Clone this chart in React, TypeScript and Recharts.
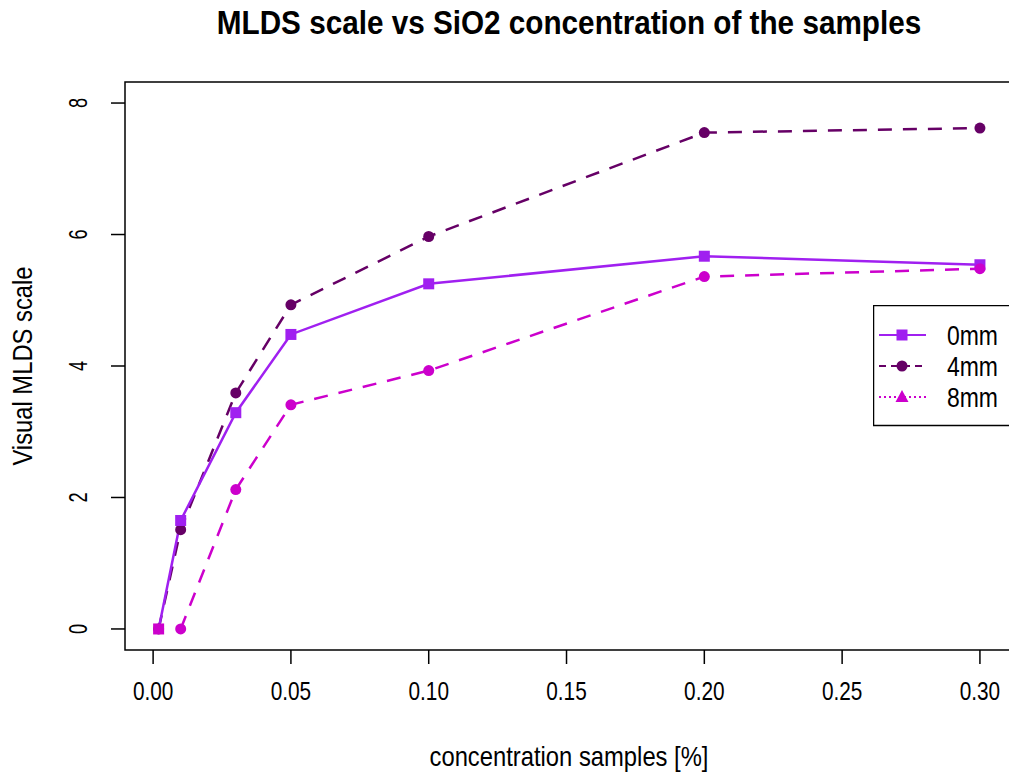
import React from "react";
import { LineChart, Line, XAxis, YAxis, ReferenceArea, Legend } from "recharts";

const concentration = [0.002, 0.01, 0.03, 0.05, 0.1, 0.2, 0.3];
const mm0 = [0, 1.65, 3.29, 4.48, 5.25, 5.67, 5.54];
const mm4 = [0, 1.51, 3.59, 4.93, 5.97, 7.55, 7.62];
const mm8 = [null, 0, 2.12, 3.41, 3.93, 5.36, 5.48];
const xTicks = [0, 0.05, 0.1, 0.15, 0.2, 0.25, 0.3];
const yTicks = [0, 2, 4, 6, 8];
const seriesNames = ["0mm", "4mm", "8mm"];

const data = concentration.map((c, i) => ({ c, mm0: mm0[i], mm4: mm4[i], mm8: mm8[i] }));

const FONT = "'Liberation Sans', Arial, sans-serif";
const PURPLE = "#A020F0";
const DARK = "#660066";
const MAGENTA = "#CC00CC";
const X_DOMAIN: [number, number] = [-0.0102, 0.312];
const Y_DOMAIN: [number, number] = [-0.32, 8.32];

const squareDot = (props: any) => {
  const { cx, cy, index } = props;
  if (cx == null || cy == null) return <g key={"s" + index} />;
  return (
    <rect key={"s" + index} x={cx - 5.5} y={cy - 5.5} width={11} height={11}
      fill={index === 0 ? MAGENTA : PURPLE} />
  );
};

const circleDot = (color: string) => (props: any) => {
  const { cx, cy, index } = props;
  if (cx == null || cy == null) return <g key={"c" + index} />;
  return <circle key={"c" + index} cx={cx} cy={cy} r={5.5} fill={color} />;
};

// R's labels here look narrow and tall, so squeeze along the reading direction
const XTick = (props: any) => {
  const { x, y, payload } = props;
  return (
    <g transform={`translate(${x}, ${y + 34}) scale(0.8, 1)`}>
      <text x={0} y={0} textAnchor="middle" fontSize={26} fontFamily={FONT} fill="#000">
        {payload.value.toFixed(2)}
      </text>
    </g>
  );
};

const YTick = (props: any) => {
  const { x, y, payload } = props;
  const bx = x - 22;
  return (
    <g transform={`translate(${bx}, ${y}) rotate(-90) scale(0.7, 1)`}>
      <text x={0} y={0} textAnchor="middle" fontSize={26} fontFamily={FONT} fill="#000">
        {payload.value}
      </text>
    </g>
  );
};

const LegendBox = () => {
  const rows = [
    { name: seriesNames[0], color: PURPLE, dash: undefined, mark: "square" },
    { name: seriesNames[1], color: DARK, dash: "7 5", mark: "circle" },
    { name: seriesNames[2], color: MAGENTA, dash: "2 3", mark: "triangle" },
  ];
  return (
    <svg width={150} height={122} style={{ display: "block" }}>
      <rect x={0.5} y={0.5} width={170} height={120} fill="#fff" stroke="#000" strokeWidth={1.5} />
      {rows.map((r, i) => {
        const cy = 30 + i * 31;
        return (
          <g key={r.name}>
            <line x1={6} x2={53} y1={cy} y2={cy} stroke={r.color} strokeWidth={2} strokeDasharray={r.dash} />
            {r.mark === "square" && <rect x={23.5} y={cy - 5.5} width={11} height={11} fill={r.color} />}
            {r.mark === "circle" && <circle cx={29} cy={cy} r={5.5} fill={r.color} />}
            {r.mark === "triangle" && (
              <polygon points={`${29},${cy - 7} ${35.5},${cy + 5} ${22.5},${cy + 5}`} fill={r.color} />
            )}
            <g transform={`translate(74, ${cy + 9.5}) scale(0.85, 1)`}>
              <text x={0} y={0} fontSize={27} fontFamily={FONT} fill="#000">{r.name}</text>
            </g>
          </g>
        );
      })}
    </svg>
  );
};

export default function App() {
  return (
    <div style={{ position: "absolute", left: 0, top: 0, width: 1009, height: 772, overflow: "hidden", background: "#fff" }}>
      <LineChart width={1030} height={772} data={data} margin={{ top: 82, right: 17, left: 0, bottom: 62 }}>
        <XAxis dataKey="c" type="number" domain={X_DOMAIN} ticks={xTicks} allowDataOverflow
          height={60} tickSize={14} tickLine={{ stroke: "#000", strokeWidth: 1.5 }}
          axisLine={false} tick={<XTick />} interval={0} />
        <YAxis type="number" domain={Y_DOMAIN} ticks={yTicks} allowDataOverflow
          width={125} tickSize={14} tickLine={{ stroke: "#000", strokeWidth: 1.5 }}
          axisLine={false} tick={<YTick />} interval={0} />
        <ReferenceArea x1={X_DOMAIN[0]} x2={X_DOMAIN[1]} y1={Y_DOMAIN[0]} y2={Y_DOMAIN[1]}
          fill="none" fillOpacity={0} stroke="#000" strokeWidth={1.5} ifOverflow="visible" />
        <Line dataKey="mm4" name={seriesNames[1]} stroke={DARK} strokeWidth={2.5} strokeDasharray="14 11"
          dot={circleDot(DARK)} activeDot={false} isAnimationActive={false} />
        <Line dataKey="mm0" name={seriesNames[0]} stroke={PURPLE} strokeWidth={2.5}
          dot={squareDot} activeDot={false} isAnimationActive={false} />
        <Line dataKey="mm8" name={seriesNames[2]} stroke={MAGENTA} strokeWidth={2.5} strokeDasharray="14 11"
          dot={circleDot(MAGENTA)} activeDot={false} isAnimationActive={false} />
        <Legend layout="horizontal" verticalAlign="middle" align="center" content={<LegendBox />}
          wrapperStyle={{ position: "absolute", left: 873, top: 305, width: 150, height: 122 }} />
      </LineChart>
      <svg width={1009} height={772} style={{ position: "absolute", left: 0, top: 0, pointerEvents: "none" }}>
        <g transform="translate(569, 34) scale(0.9, 1)">
          <text x={0} y={0} textAnchor="middle" fontSize={33} fontWeight="bold" fontFamily={FONT} fill="#000">
            MLDS scale vs SiO2 concentration of the samples
          </text>
        </g>
        <g transform="translate(569, 766) scale(0.85, 1)">
          <text x={0} y={0} textAnchor="middle" fontSize={28} fontFamily={FONT} fill="#000">
            concentration samples [%]
          </text>
        </g>
        <g transform="translate(32, 366) rotate(-90) scale(0.85, 1)">
          <text x={0} y={0} textAnchor="middle" fontSize={28} fontFamily={FONT} fill="#000">
            Visual MLDS scale
          </text>
        </g>
      </svg>
    </div>
  );
}
